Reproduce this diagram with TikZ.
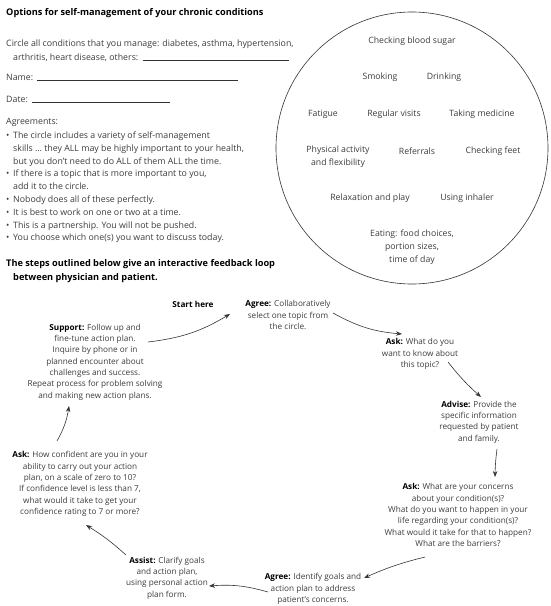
\documentclass[tikz,border=0pt]{standalone}
\usepackage{fontspec}
\setmainfont{Open Sans}
\usetikzlibrary{arrows.meta,calc}
\definecolor{txt}{HTML}{3C3C3C}
\definecolor{ln}{HTML}{333333}
\begin{document}
\begin{tikzpicture}[x=1pt,y=-1pt,
  body/.style={inner sep=0pt, text=txt, font=\fontsize{8.8}{12.8}\selectfont, anchor=base west},
  head/.style={inner sep=0pt, text=black, font=\fontsize{9.2}{14}\selectfont\bfseries, anchor=base west},
  ctext/.style={inner sep=0pt, text=txt, font=\fontsize{8.7}{12.8}\selectfont, align=center},
  cyc/.style={inner sep=0pt, text=txt, font=\fontsize{8.2}{11.3}\selectfont, align=center},
  uline/.style={draw=ln, line width=0.5pt},
  arr/.style={draw=ln, line width=0.6pt, -{Stealth[length=6pt,width=4.5pt]}},
  ring/.style={draw=ln, line width=0.6pt}]
\useasboundingbox (0,0) rectangle (550,606);
% header
\node[head] (title) at (6,15.5) {Options for self-management of your chronic conditions};
\node[body] (circ1) at (6,46) {Circle all conditions that you manage: diabetes, asthma, hypertension,};
\node[body] (circ2) at (13,60) {arthritis, heart disease, others:};
\draw[uline] ([xshift=4pt]circ2.base east) -- (289,60);
\node[body] (name) at (6,80) {Name:};
\draw[uline] ([xshift=4pt]name.base east) -- (238,80);
\node[body] (date) at (6,102) {Date:};
\draw[uline] ([xshift=4pt]date.base east) -- (170,102);
\node[body] (agr) at (6,124) {Agreements:};
\foreach \i/\yy/\xx/\t in {
  1/138.5/6/{\makebox[7pt][l]{\textbullet}The circle includes a variety of self-management},
  2/151.3/13/{skills \dots\ they ALL may be highly important to your health,},
  3/164.1/13/{but you don’t need to do ALL of them ALL the time.},
  4/176.9/6/{\makebox[7pt][l]{\textbullet}If there is a topic that is more important to you,},
  5/189.7/13/{add it to the circle.},
  6/202.5/6/{\makebox[7pt][l]{\textbullet}Nobody does all of these perfectly.},
  7/215.3/6/{\makebox[7pt][l]{\textbullet}It is best to work on one or two at a time.},
  8/228.1/6/{\makebox[7pt][l]{\textbullet}This is a partnership. You will not be pushed.},
  9/240.9/6/{\makebox[7pt][l]{\textbullet}You choose which one(s) you want to discuss today.}}
  \node[body] (b\i) at (\xx,\yy) {\t};
\node[head] (steps1) at (6,266) {The steps outlined below give an interactive feedback loop};
\node[head] (steps2) at (13,280) {between physician and patient.};
% circle
\node[ring, circle, minimum size=272pt, inner sep=0pt] (ring) at (412,148) {};
\node[ctext] (c1) at (412,41) {Checking blood sugar};
\node[ctext] (c2) at (380,77) {Smoking};
\node[ctext] (c3) at (444,77) {Drinking};
\node[ctext] (c4) at (323,114) {Fatigue};
\node[ctext] (c5) at (394,114) {Regular visits};
\node[ctext] (c6) at (482,114) {Taking medicine};
\node[ctext] (c7) at (338,157) {Physical activity\\and flexibility};
\node[ctext] (c8) at (417,151) {Referrals};
\node[ctext] (c9) at (493,151) {Checking feet};
\node[ctext] (c10) at (370,198) {Relaxation and play};
\node[ctext] (c11) at (467,198) {Using inhaler};
\node[ctext] (c12) at (412,247) {Eating: food choices,\\portion sizes,\\time of day};
% cycle
\node[cyc, text=black] (start) at (193,304) {\textbf{Start here}};
\node[cyc] (agr1) at (288,315) {\textbf{\color{black}Agree:} Collaboratively\\select one topic from\\the circle.};
\node[cyc] (ask1) at (420,354) {\textbf{\color{black}Ask:} What do you\\want to know about\\this topic?};
\node[cyc] (adv) at (479,422) {\textbf{\color{black}Advise:} Provide the\\specific information\\requested by patient\\and family.};
\node[cyc] (ask2) at (458,515) {\textbf{\color{black}Ask:} What are your concerns\\about your condition(s)?\\What do you want to happen in your\\life regarding your condition(s)?\\What would it take for that to happen?\\What are the barriers?};
\node[cyc] (agr2) at (313,589) {\textbf{\color{black}Agree:} Identify goals and\\action plan to address\\patient’s concerns.};
\node[cyc] (asst) at (167,578) {\textbf{\color{black}Assist:} Clarify goals\\and action plan,\\using personal action\\plan form.};
\node[cyc] (ask3) at (80,484) {\textbf{\color{black}Ask:} How confident are you in your\\ability to carry out your action\\plan, on a scale of zero to 10?\\If confidence level is less than 7,\\what would it take to get your\\confidence rating to 7 or more?};
\node[cyc] (sup) at (95,362) {\textbf{\color{black}Support:} Follow up and\\fine-tune action plan.\\Inquire by phone or in\\planned encounter about\\challenges and success.\\Repeat process for problem solving\\and making new action plans.};
% arrows
\draw[arr] ([shift={(53,-20)}]sup.center) to[bend right=12] ([shift={(-58,-1)}]agr1.center);
\draw[arr] ([shift={(45,-2)}]agr1.center) to[bend right=12] ([shift={(-18,-20)}]ask1.center);
\draw[arr] ([shift={(28,8)}]ask1.center) to[bend right=5] ([shift={(2,-25)}]adv.center);
\draw[arr] ([shift={(18,27)}]adv.center) to[bend right=3] ([shift={(37,-38)}]ask2.center);
\draw[arr] ([shift={(-33,42)}]ask2.center) to[bend right=5] ([shift={(51,-11)}]agr2.center);
\draw[arr] ([shift={(-45,3)}]agr2.center) to[bend right=10] ([shift={(42,8)}]asst.center);
\draw[arr] ([shift={(-41,-23)}]asst.center) to[bend right=5] ([shift={(6,41)}]ask3.center);
\draw[arr] ([shift={(-23,-43)}]ask3.center) to[bend right=10] ([shift={(-26,44)}]sup.center);
\end{tikzpicture}
\end{document}
